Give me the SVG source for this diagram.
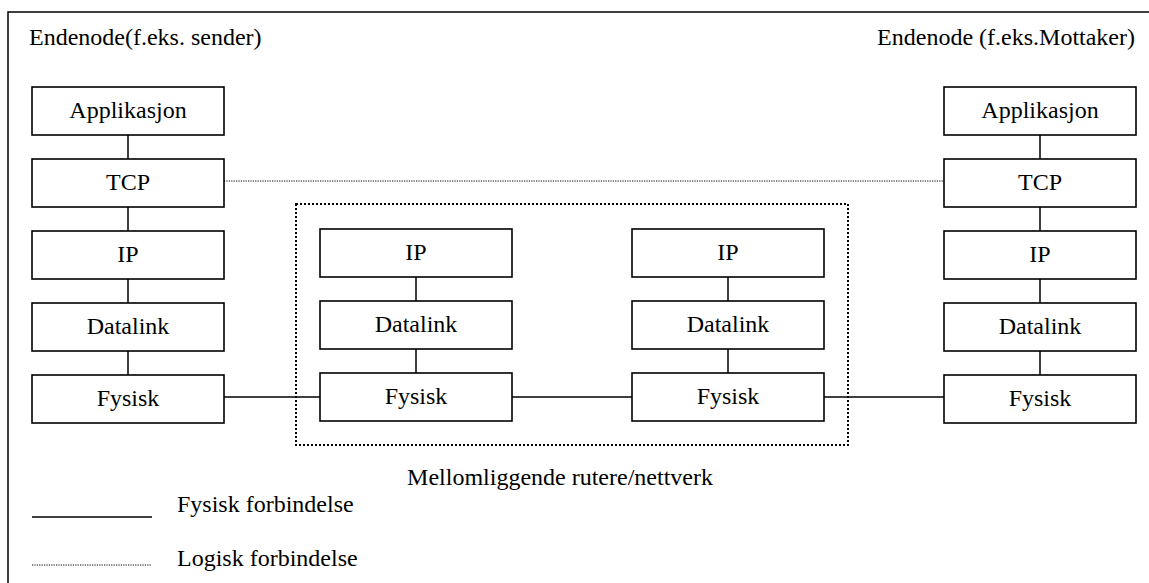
<svg xmlns="http://www.w3.org/2000/svg" width="1149" height="583" viewBox="0 0 1149 583">
  <style>
    text { font-family: "Liberation Serif", "Times New Roman", serif; font-size: 24px; fill: #000; }
    .c { text-anchor: middle; }
    .box { fill: #fff; stroke: #000; stroke-width: 1.6; }
    .solid { stroke: #000; stroke-width: 1.5; fill: none; }
    .dot { stroke: #000; stroke-width: 1.2; stroke-dasharray: 1.2 1.2; fill: none; }
    .dotb { stroke: #000; stroke-width: 2; stroke-dasharray: 2 2; fill: none; }
  </style>

  <rect width="1149" height="583" fill="#fff"/>

  <!-- outer frame (top and left edges) -->
  <path class="solid" d="M8 583 V12 H1149" stroke-width="2"/>

  <!-- group labels -->
  <text x="29" y="45">Endenode(f.eks. sender)</text>
  <text x="1135" y="45" text-anchor="end">Endenode (f.eks.Mottaker)</text>
  <text x="560" y="485" class="c">Mellomliggende rutere/nettverk</text>

  <!-- router area -->
  <rect class="dotb" x="296" y="204" width="552" height="241"/>

  <!-- connectors -->
  <g id="connectors">
    <!-- left end node stack -->
    <path class="solid" d="M128 135 V159 M128 207 V231 M128 279 V303 M128 351 V375"/>
    <!-- right end node stack -->
    <path class="solid" d="M1040 135 V159 M1040 207 V231 M1040 279 V303 M1040 351 V375"/>
    <!-- router stacks -->
    <path class="solid" d="M416 277 V301 M416 349 V373 M728 277 V301 M728 349 V373"/>
    <!-- physical links -->
    <path class="solid" d="M224 397 H320 M512 397 H632 M824 397 H944"/>
    <!-- logical TCP link -->
    <path class="dot" d="M224 181 H944"/>
  </g>

  <!-- left end node -->
  <g id="left-app"><rect class="box" x="32" y="87" width="192" height="48"/><text x="128" y="118" class="c">Applikasjon</text></g>
  <g id="left-tcp"><rect class="box" x="32" y="159" width="192" height="48"/><text x="128" y="190" class="c">TCP</text></g>
  <g id="left-ip"><rect class="box" x="32" y="231" width="192" height="48"/><text x="128" y="262" class="c">IP</text></g>
  <g id="left-datalink"><rect class="box" x="32" y="303" width="192" height="48"/><text x="128" y="334" class="c">Datalink</text></g>
  <g id="left-fysisk"><rect class="box" x="32" y="375" width="192" height="48"/><text x="128" y="406" class="c">Fysisk</text></g>

  <!-- router 1 -->
  <g id="r1-ip"><rect class="box" x="320" y="229" width="192" height="48"/><text x="416" y="260" class="c">IP</text></g>
  <g id="r1-datalink"><rect class="box" x="320" y="301" width="192" height="48"/><text x="416" y="332" class="c">Datalink</text></g>
  <g id="r1-fysisk"><rect class="box" x="320" y="373" width="192" height="48"/><text x="416" y="404" class="c">Fysisk</text></g>

  <!-- router 2 -->
  <g id="r2-ip"><rect class="box" x="632" y="229" width="192" height="48"/><text x="728" y="260" class="c">IP</text></g>
  <g id="r2-datalink"><rect class="box" x="632" y="301" width="192" height="48"/><text x="728" y="332" class="c">Datalink</text></g>
  <g id="r2-fysisk"><rect class="box" x="632" y="373" width="192" height="48"/><text x="728" y="404" class="c">Fysisk</text></g>

  <!-- right end node -->
  <g id="right-app"><rect class="box" x="944" y="87" width="192" height="48"/><text x="1040" y="118" class="c">Applikasjon</text></g>
  <g id="right-tcp"><rect class="box" x="944" y="159" width="192" height="48"/><text x="1040" y="190" class="c">TCP</text></g>
  <g id="right-ip"><rect class="box" x="944" y="231" width="192" height="48"/><text x="1040" y="262" class="c">IP</text></g>
  <g id="right-datalink"><rect class="box" x="944" y="303" width="192" height="48"/><text x="1040" y="334" class="c">Datalink</text></g>
  <g id="right-fysisk"><rect class="box" x="944" y="375" width="192" height="48"/><text x="1040" y="406" class="c">Fysisk</text></g>

  <!-- legend -->
  <g id="legend">
    <path class="solid" d="M32 517 H152" stroke-width="2"/>
    <text x="177" y="512">Fysisk forbindelse</text>
    <path class="dot" d="M32 565 H152"/>
    <text x="177" y="566">Logisk forbindelse</text>
  </g>
</svg>
